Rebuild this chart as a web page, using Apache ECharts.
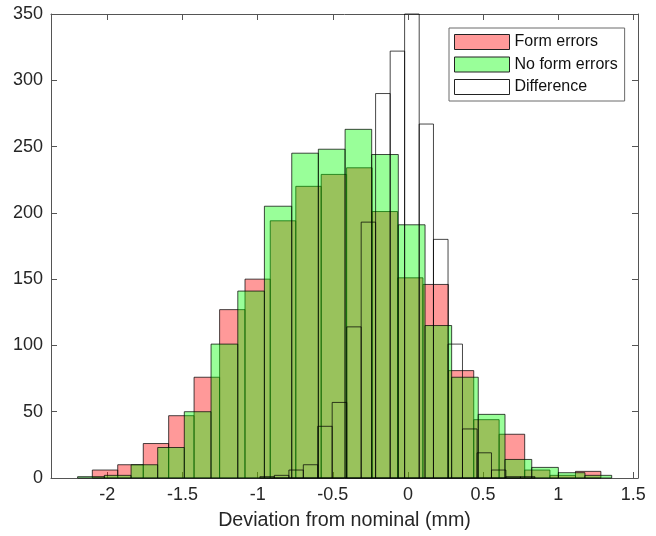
<!DOCTYPE html>
<html><head><meta charset="utf-8">
<script src="https://cdn.jsdelivr.net/npm/echarts@6/dist/echarts.min.js"></script>
<style>html,body{margin:0;padding:0;background:#fff}#c{width:656px;height:536px}</style>
</head><body><div id="c"></div>
<script>
const seriesNames = ['Form errors', 'No form errors', 'Difference'];
const formEdges = [-2.100, -1.931, -1.761, -1.592, -1.423, -1.253, -1.084, -0.916, -0.746, -0.577, -0.408, -0.238, -0.069, 0.100, 0.269, 0.438, 0.607, 0.777, 0.945, 1.115, 1.284];
const formCounts = [6, 10, 26, 47, 76, 127, 150, 194, 220, 229, 234, 201, 151, 146, 81, 44, 33, 6, 2, 5];
const noFormEdges = [-2.198, -2.020, -1.842, -1.665, -1.488, -1.310, -1.132, -0.955, -0.773, -0.596, -0.418, -0.241, -0.064, 0.114, 0.291, 0.468, 0.646, 0.824, 1.001, 1.178, 1.356];
const noFormCounts = [1, 2, 10, 23, 50, 101, 141, 205, 245, 248, 263, 244, 191, 115, 76, 48, 14, 8, 4, 2];
const diffEdges = [-0.985, -0.889, -0.792, -0.696, -0.600, -0.504, -0.407, -0.311, -0.215, -0.118, -0.022, 0.075, 0.170, 0.267, 0.363, 0.460, 0.556, 0.652, 0.749, 0.845];
const diffCounts = [1, 2, 6, 10, 39, 57, 114, 193, 290, 322, 370, 267, 180, 101, 37, 19, 6, 1, 1];
const xTicks = [-2, -1.5, -1, -0.5, 0, 0.5, 1, 1.5];
const yTicks = [0, 50, 100, 150, 200, 250, 300, 350];

const FONT = 'Liberation Sans, Arial, sans-serif';
const fills = ['rgba(255,0,0,0.4)', 'rgba(0,255,0,0.4)', 'rgba(255,255,255,0)'];
const edge = 'rgba(0,0,0,0.72)';

function toBins(edges, counts) {
  return counts.map((c, i) => [edges[i], edges[i + 1], c]);
}
function makeRender(fill) {
  return function (params, api) {
    const p0 = api.coord([api.value(0), 0]);
    const p1 = api.coord([api.value(1), api.value(2)]);
    const cs = params.coordSys;
    const rect = echarts.graphic.clipRectByRect(
      { x: p0[0], y: p1[1], width: p1[0] - p0[0], height: p0[1] - p1[1] },
      { x: cs.x, y: cs.y, width: cs.width, height: cs.height }
    );
    if (!rect) return;
    return { type: 'rect', shape: rect, style: { fill: fill, stroke: edge, lineWidth: 1 } };
  };
}
const datasets = [toBins(formEdges, formCounts), toBins(noFormEdges, noFormCounts), toBins(diffEdges, diffCounts)];

const axisColor = '#555';
const chart = echarts.init(document.getElementById('c'), null, { renderer: 'canvas' });
chart.setOption({
  animation: false,
  backgroundColor: '#fff',
  grid: { left: 51, right: 18, top: 14, bottom: 58, containLabel: false },
  xAxis: [
    {
      type: 'value', min: -2.375, max: 1.531, position: 'bottom',
      axisLine: { show: true, onZero: false, lineStyle: { color: axisColor, width: 1 } },
      axisTick: { show: true, inside: true, length: 6, customValues: xTicks, lineStyle: { color: axisColor } },
      axisLabel: { customValues: xTicks, fontSize: 18, color: '#262626', margin: 8, fontFamily: FONT },
      splitLine: { show: false },
      name: 'Deviation from nominal (mm)', nameLocation: 'middle', nameGap: 33,
      nameTextStyle: { fontSize: 19.7, color: '#262626', fontFamily: FONT }
    },
    {
      type: 'value', min: -2.375, max: 1.531, position: 'top',
      axisLine: { show: true, onZero: false, lineStyle: { color: axisColor, width: 1 } },
      axisTick: { show: true, inside: true, length: 6, customValues: xTicks, lineStyle: { color: axisColor } },
      axisLabel: { show: false }, splitLine: { show: false }
    }
  ],
  yAxis: [
    {
      type: 'value', min: 0, max: 350, interval: 50, position: 'left',
      axisLine: { show: true, onZero: false, lineStyle: { color: axisColor, width: 1 } },
      axisTick: { show: true, inside: true, length: 6, lineStyle: { color: axisColor } },
      axisLabel: { fontSize: 18, color: '#262626', margin: 8, fontFamily: FONT },
      splitLine: { show: false }
    },
    {
      type: 'value', min: 0, max: 350, interval: 50, position: 'right',
      axisLine: { show: true, onZero: false, lineStyle: { color: axisColor, width: 1 } },
      axisTick: { show: true, inside: true, length: 6, lineStyle: { color: axisColor } },
      axisLabel: { show: false }, splitLine: { show: false }
    }
  ],
  legend: {
    orient: 'vertical', left: 449, top: 28, padding: [6, 7, 6, 5],
    itemWidth: 55, itemHeight: 15, itemGap: 6.5,
    borderColor: '#6a6a6a', borderWidth: 1, backgroundColor: '#fff',
    selectedMode: false,
    textStyle: { fontSize: 16, color: '#111', fontFamily: FONT },
    data: seriesNames.map((n, i) => ({
      name: n, icon: 'rect',
      itemStyle: { color: fills[i], borderColor: '#222', borderWidth: 1 }
    }))
  },
  series: seriesNames.map((n, i) => ({
    type: 'custom', name: n, xAxisIndex: 0, yAxisIndex: 0,
    renderItem: makeRender(fills[i]),
    encode: { x: [0, 1], y: 2 },
    itemStyle: { color: fills[i], borderColor: '#000', borderWidth: 1 },
    data: datasets[i],
    z: 2 + i
  }))
});
</script>
</body></html>
